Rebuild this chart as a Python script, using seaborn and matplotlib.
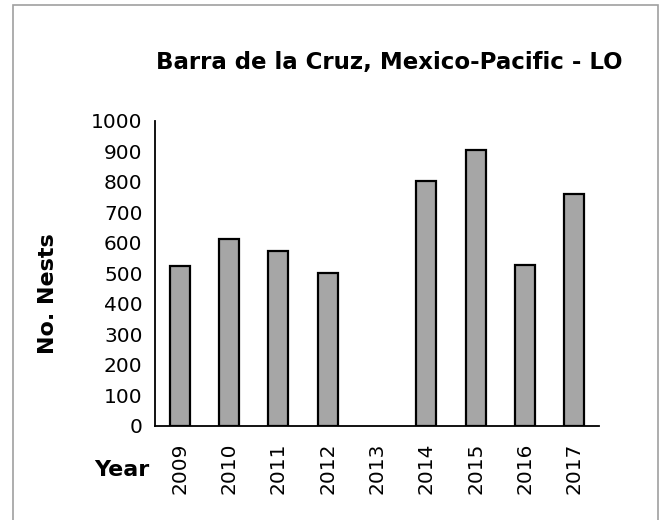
import numpy as np
import pandas as pd
import seaborn as sns
from matplotlib import pyplot as plt
from matplotlib.patches import Rectangle

# values (2013 has no bar)
years = ["2009", "2010", "2011", "2012", "2013", "2014", "2015", "2016", "2017"]
nests = [524, 611, 571, 500, np.nan, 803, 903, 525, 759]
y_ticks = list(range(0, 1001, 100))

sns.set_style("white")
plt.rcParams['font.family'] = ['DejaVu Sans']
plt.rcParams['text.color'] = 'black'
plt.rcParams['xtick.color'] = 'black'
plt.rcParams['ytick.color'] = 'black'

df = pd.DataFrame({"Year": years, "Nests": nests})

W, H = 661, 520
fig = plt.figure(figsize=(W / 100, H / 100), dpi=100)
ax = fig.add_axes([155 / W, 1 - 425.5 / H, (599 - 155) / W, (425.5 - 120.7) / H])

sns.barplot(data=df, x="Year", y="Nests", order=years, color="#a6a6a6",
            saturation=1, width=0.41, edgecolor="black", linewidth=1.6, ax=ax)

ax.set_ylim(0, 1000)
ax.set_xlim(-0.5, len(years) - 0.5)
ax.set_yticks(y_ticks)
ax.set_yticklabels([str(t) for t in y_ticks], fontsize=14.5)
ax.set_xticks(range(len(years)))
ax.set_xticklabels(years, rotation=90, fontsize=14.5)
ax.set_xticks(np.arange(-0.5, len(years)), minor=True)
ax.tick_params(axis="x", which="major", length=0, pad=12.5)
ax.tick_params(axis="x", which="minor", length=6, width=1.3, direction="out", color="black")
ax.tick_params(axis="y", length=5, width=1.3, direction="out", color="black", pad=4)
ax.set_xlabel("")
ax.set_ylabel("")

for side in ["top", "right"]:
    ax.spines[side].set_visible(False)
for side in ["left", "bottom"]:
    ax.spines[side].set_color("black")
    ax.spines[side].set_linewidth(1.3)

fig.text(389 / W, 1 - 62 / H, "Barra de la Cruz, Mexico-Pacific - LO", fontsize=16.5,
         fontweight="bold", ha="center", va="center")
fig.text(48 / W, 1 - 294 / H, "No. Nests", rotation=90, fontsize=16, fontweight="bold",
         ha="center", va="center")
fig.text(122 / W, 1 - 470 / H, "Year", fontsize=16, fontweight="bold", ha="center", va="center")

# light grey chart-area frame, open at the bottom edge
fig.patches.append(Rectangle((12.5 / W, -0.05), (657.5 - 12.5) / W, 1.05 - 5 / H,
                             transform=fig.transFigure, fill=False,
                             edgecolor="#a0a0a0", linewidth=1.2))

fig.savefig("out.png", dpi=100)
